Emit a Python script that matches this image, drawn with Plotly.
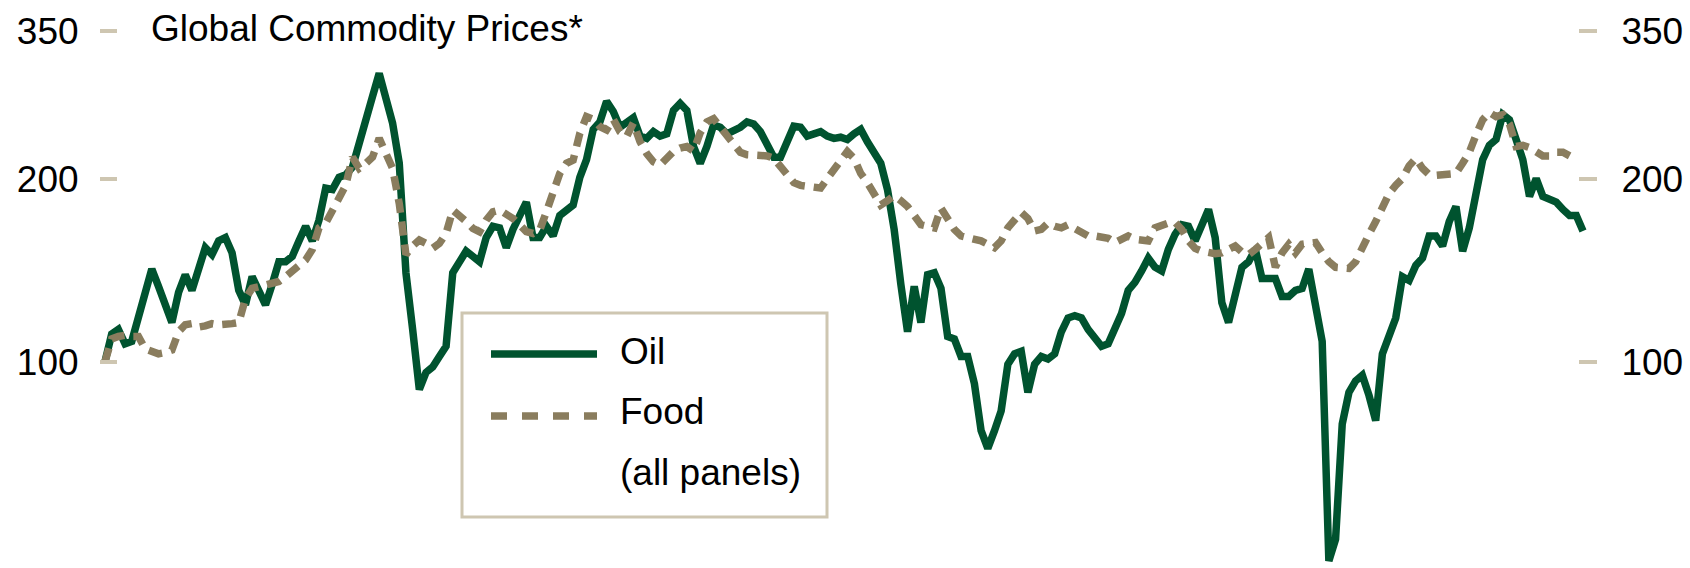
import math
import pandas as pd
import plotly.graph_objects as go

# ---- data (index, Jan 2005 = 100, monthly) ----
months = pd.date_range("2005-01-01", periods=222, freq="MS").strftime("%Y-%m").tolist()

oil = [100, 111, 113, 107, 108, 119, 130, 142, 133, 124, 116, 130, 139, 131, 143, 154, 150, 158, 160, 151,
       131, 124, 138, 130, 124, 134, 146, 146, 149, 158, 167, 158, 171, 193, 192, 201, 203, 209, 227, 248,
       273, 298, 273, 247, 212, 140, 113, 90, 96, 98, 102, 106, 140, 147, 152, 149, 146, 160, 167, 166,
       154, 165, 173, 183, 160, 160, 167, 161, 174, 178, 181, 201, 215, 241, 248, 268, 258, 243, 248, 252,
       235, 233, 239, 235, 237, 259, 266, 259, 226, 212, 226, 245, 243, 237, 240, 243, 248, 246, 239, 227,
       217, 217, 229, 244, 243, 235, 237, 239, 235, 233, 234, 232, 237, 241, 230, 221, 212, 192, 165, 134,
       112, 133, 116, 139, 140, 132, 110, 109, 102, 102, 92, 77, 72, 77, 83, 99, 103, 104, 89, 99,
       102, 101, 103, 112, 118, 119, 118, 113, 109, 106, 107, 113, 120, 131, 135, 141, 148, 143, 141, 153,
       162, 168, 167, 158, 167, 178, 160, 125, 116, 130, 143, 146, 153, 137, 137, 137, 128, 128, 131, 132,
       142, 122, 108, 47, 51, 79, 89, 93, 95, 88, 80, 103, 111, 118, 138, 136, 144, 148, 161, 161,
       155, 170, 180, 152, 166, 192, 215, 227, 232, 255, 250, 232, 215, 187, 200, 187, 185, 183, 178, 174,
       174, 164]

food = [100, 109, 110, 110.5, 110, 110, 105, 104, 103, 103.5, 104.5, 112, 115, 115.5, 114, 114.5, 115.5, 115, 115, 115.5,
        116, 127, 132, 133, 133.5, 134.5, 135.5, 138, 141, 144, 147, 153, 166, 169, 177, 186, 195, 217, 208, 212,
        217, 233, 218, 208, 182, 150, 155, 158.5, 156.5, 153.7, 156.5, 162.5, 177.6, 174.3, 170, 165.7, 163.6, 171, 176.4, 177.6,
        175.4, 172, 168, 163.6, 162.5, 164.6, 176.4, 189, 204, 212, 214.6, 237.5, 253, 250.4, 243.6, 240.6, 250.5, 239, 234.6, 247,
        230, 220, 213.2, 210.6, 216, 221.6, 224.5, 225.8, 222, 238, 248, 251, 243, 235, 226, 221, 219, 218.6, 218.5, 218,
        216, 210, 204, 197, 195, 194.5, 194, 193, 200, 207, 215, 221.6, 216, 204, 197, 188, 181, 184, 187.5, 184,
        180, 174, 168, 167, 166, 179, 172, 165, 161, 160, 160, 158, 156, 154, 158, 166, 171, 176, 172, 164,
        165, 169, 167, 166, 168, 166, 164, 161, 161, 160.5, 159.6, 157, 159, 161, 159, 158.5, 158, 166, 168, 169,
        169.5, 165, 158, 153.6, 152, 150.7, 150.5, 151, 153.5, 155, 151.5, 150, 153, 157, 160, 143, 151, 156, 151, 156,
        156.5, 157, 151, 146, 143, 142.4, 142.4, 146, 155, 162, 170, 180, 189, 195, 200, 210, 216, 208, 203, 202.6,
        202.6, 203, 204, 212, 221, 236, 250, 257, 253, 255, 246, 226, 227, 225, 222, 218, 218, 221, 221, 218]

tick_vals = [100, 200, 350]
tick_text = ["100", "200", "350"]

title_text = "Global Commodity Prices*"
legend_labels = ["Oil", "Food", "(all panels)"]

# ---- style ----
W, H = 1690, 568
GREEN = "#00532F"
TAN = "#8A7D5E"
TICK = "#CEC6B1"
FONT = "Liberation Sans, Arial, sans-serif"
FS = 37
LW = 7.5


def px(x):
    return x / W


def py(y):
    return 1 - y / H


fig = go.Figure()
fig.add_trace(go.Scatter(x=months, y=oil, mode="lines", name="Oil",
                         line=dict(color=GREEN, width=LW), showlegend=False,
                         xaxis="x", yaxis="y"))
fig.add_trace(go.Scatter(x=months[:len(food)], y=food, mode="lines", name="Food",
                         line=dict(color=TAN, width=LW, dash="14px,9px"), showlegend=False,
                         xaxis="x", yaxis="y2"))

ppm = (1583 - 105) / (len(oil) - 1)
x_lo = -105 / ppm
x_hi = x_lo + W / ppm
y_range = [math.log10(45.77), math.log10(393.5)]

yax = dict(type="log", range=y_range, tickvals=tick_vals, ticktext=tick_text,
           ticks="outside", tickwidth=4, tickcolor=TICK,
           showgrid=False, zeroline=False, showline=False,
           tickfont=dict(family=FONT, size=FS, color="black"), anchor="free")

fig.update_layout(
    width=W, height=H, margin=dict(l=0, r=0, t=0, b=0),
    paper_bgcolor="white", plot_bgcolor="white",
    showlegend=False,
    xaxis=dict(type="category", range=[x_lo, x_hi], visible=False, domain=[0, 1]),
    yaxis=dict(**yax, side="left", position=px(117), ticklen=17, ticklabelstandoff=14),
    yaxis2=dict(**yax, side="right", position=px(1578), ticklen=18, overlaying="y",
                ticklabelstandoff=17),
    font=dict(family=FONT, size=FS, color="black"),
)

# title
fig.add_annotation(x=px(149), y=py(28), xref="paper", yref="paper", text=title_text,
                   showarrow=False, xanchor="left", yanchor="middle",
                   font=dict(family=FONT, size=FS, color="black"))

# legend box
fig.add_shape(type="rect", xref="paper", yref="paper", x0=px(462), x1=px(827), y0=py(313), y1=py(517),
              line=dict(color=TICK, width=3), fillcolor="white", layer="above")
fig.add_shape(type="line", xref="paper", yref="paper", x0=px(491), x1=px(597), y0=py(354), y1=py(354),
              line=dict(color=GREEN, width=7.5), layer="above")
fig.add_shape(type="line", xref="paper", yref="paper", x0=px(491), x1=px(597), y0=py(416), y1=py(416),
              line=dict(color=TAN, width=7.5, dash="16px,15px"), layer="above")
for lab, yc in zip(legend_labels, [351, 411, 473]):
    fig.add_annotation(x=px(618), y=py(yc), xref="paper", yref="paper", text=lab,
                       showarrow=False, xanchor="left", yanchor="middle",
                       font=dict(family=FONT, size=FS, color="black"))

fig.write_html("out.html")
